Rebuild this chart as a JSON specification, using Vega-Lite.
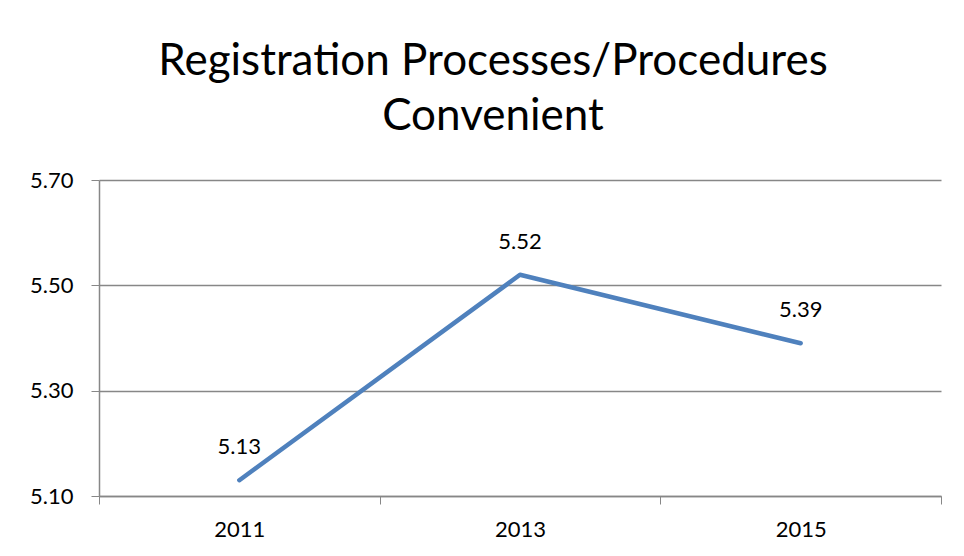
{
  "$schema": "https://vega.github.io/schema/vega-lite/v6.json",
  "width": 842,
  "height": 316,
  "autosize": {"type": "none"},
  "padding": {"left": 99, "top": 180, "right": 23, "bottom": 60},
  "background": "white",
  "config": {
    "view": {"stroke": null},
    "font": "Lato"
  },
  "title": {
    "text": ["Registration Processes/Procedures", "Convenient"],
    "fontSize": 44,
    "fontWeight": "normal",
    "font": "Lato",
    "color": "#000000",
    "lineHeight": 55,
    "anchor": "middle",
    "frame": "group",
    "dx": -27,
    "offset": 30
  },
  "data": {
    "values": [
      {"year": "2011", "score": 5.13},
      {"year": "2013", "score": 5.52},
      {"year": "2015", "score": 5.39}
    ]
  },
  "encoding": {
    "x": {
      "field": "year",
      "type": "ordinal",
      "scale": {"paddingInner": 0, "paddingOuter": 0},
      "axis": {
        "title": null,
        "labelAngle": 0,
        "tickBand": "extent",
        "tickSize": 8,
        "tickColor": "#878787",
        "domainColor": "#878787",
        "domainWidth": 1.5,
        "labelFontSize": 22,
        "labelColor": "#000000",
        "labelPadding": 15,
        "grid": false
      }
    },
    "y": {
      "field": "score",
      "type": "quantitative",
      "scale": {"domain": [5.1, 5.7], "nice": false, "zero": false},
      "axis": {
        "title": null,
        "values": [5.1, 5.3, 5.5, 5.7],
        "format": ".2f",
        "grid": true,
        "gridColor": "#878787",
        "gridWidth": 1.5,
        "tickSize": 8,
        "tickColor": "#878787",
        "domainColor": "#878787",
        "domainWidth": 1.5,
        "labelFontSize": 22,
        "labelColor": "#000000",
        "labelAlign": "right",
        "labelPadding": 18
      }
    }
  },
  "layer": [
    {
      "mark": {"type": "line", "color": "#4F81BD", "strokeWidth": 4.5, "strokeCap": "round", "strokeJoin": "round"}
    },
    {
      "mark": {"type": "text", "dy": -33, "fontSize": 22, "font": "Lato", "color": "#000000"},
      "encoding": {
        "text": {"field": "score", "type": "quantitative", "format": ".2f"}
      }
    }
  ]
}
